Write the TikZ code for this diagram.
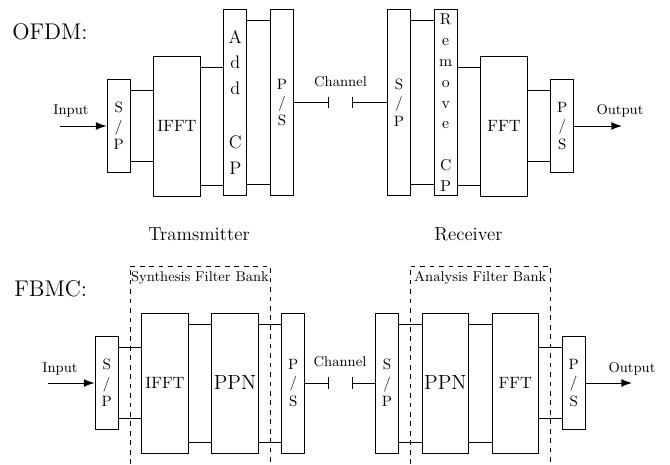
\documentclass[tikz,border=0pt]{standalone}
\usepackage{fontspec}
\usetikzlibrary{arrows.meta}

\tikzset{
  blk/.style={draw, semithick, minimum width=14.8pt, inner sep=0pt, align=center,
    font=\fontsize{9.5}{11.7}\selectfont},
  wblk/.style={blk, minimum width=29.6pt, font=\fontsize{10.4}{12}\selectfont},
  h4/.style={minimum height=59.3pt},
  h6/.style={minimum height=88.9pt},
  h8/.style={minimum height=118.5pt},
  lbl/.style={font=\small, inner sep=0pt, anchor=base},
  title/.style={font=\Large, inner sep=0pt, anchor=base west},
  side/.style={font=\large, inner sep=0pt, anchor=base},
  tick/.style={-{Bar[width=7pt]}},
  io/.style={semithick, -{Latex[length=6.8pt, width=5pt]}},
}

\begin{document}
\begin{tikzpicture}[x=0.635pt, y=0.635pt]
    \useasboundingbox (0,0) rectangle (670,464);

    % OFDM
    \node[title] (ofdm) at (12,424) {OFDM:};
    \node[blk, h4] (sp1) at (118.7,338) {S\\/\\P};
    \node[wblk, h6] (ifft1) at (177,338) {IFFT};
    \node[blk, h8, font=\fontsize{11.5}{15.9}\selectfont] (acp) at (235.3,361.5) {A\\d\\d\\[19pt]C\\P};
    \node[blk, h8] (ps1) at (282,361.5) {P\\/\\S};
    \node[blk, h8] (sp2) at (399,361.5) {S\\/\\P};
    \node[blk, h8, font=\fontsize{10}{13.3}\selectfont] (rcp) at (445.7,361.5) {R\\e\\m\\o\\v\\e\\[13.1pt]C\\P};
    \node[wblk, h6] (fft1) at (504,338) {FFT};
    \node[blk, h4] (ps2) at (562.3,338) {P\\/\\S};

    \node[side] (tx) at (199,224) {Tramsmitter};
    \node[side] (rx) at (468.5,224) {Receiver};

    % FBMC
    \node[title] (fbmc) at (14,167.3) {FBMC:};
    \node[blk, h4] (sp3) at (106.7,81) {S\\/\\P};
    \node[wblk, h6] (ifft2) at (165,81) {IFFT};
    \node[wblk, h6, font=\fontsize{13}{15}\selectfont] (ppn1) at (235,81) {PPN};
    \node[blk, h6] (ps3) at (293.3,81) {P\\/\\S};
    \node[blk, h6] (sp4) at (387,81) {S\\/\\P};
    \node[wblk, h6, font=\fontsize{13}{15}\selectfont] (ppn2) at (445.3,81) {PPN};
    \node[wblk, h6] (fft2) at (515.3,81) {FFT};
    \node[blk, h4] (ps4) at (573.7,81) {P\\/\\S};

    % filter banks
    \draw[semithick, dashed] (130,0) |- (270,198) -- (270,0);
    \draw[semithick, dashed] (410.3,0) |- (550.3,198) -- (550.3,0);
    \node[lbl] (sfb) at (200,182.3) {Synthesis Filter Bank};
    \node[lbl] (afb) at (480.3,182.3) {Analysis Filter Bank};

    % parallel lines between blocks (offset inside the shorter block)
    \foreach \a/\b/\s in {sp1/ifft1/sp1, ifft1/acp/ifft1, acp/ps1/acp,
                         sp2/rcp/sp2, rcp/fft1/fft1, fft1/ps2/ps2,
                         sp3/ifft2/sp3, ifft2/ppn1/ifft2, ppn1/ps3/ppn1,
                         sp4/ppn2/sp4, ppn2/fft2/ppn2, fft2/ps4/ps4} {
      \coordinate (hi) at ([yshift=-7.4pt]\s.north);
      \coordinate (lo) at ([yshift=7.4pt]\s.south);
      \draw (\a.east |- hi) -- (\b.west |- hi);
      \draw (\a.east |- lo) -- (\b.west |- lo);
    }

    % input, output and channel
    \coordinate (in1) at (60,338);
    \coordinate (out1) at (622,338);
    \coordinate (in2) at (48,81);
    \coordinate (out2) at (632,81);
    \coordinate (t1a) at (328.7,361.5);
    \coordinate (t1b) at (352.3,361.5);
    \coordinate (t2a) at (328.3,81);
    \coordinate (t2b) at (351.7,81);

    \draw[io] (in1) -- (sp1);
    \draw[io] (ps2) -- (out1);
    \draw[io] (in2) -- (sp3);
    \draw[io] (ps4) -- (out2);
    \node[lbl] (inl1) at (71,349) {Input};
    \node[lbl] (outl1) at (620,349) {Output};
    \node[lbl] (inl2) at (60,92) {Input};
    \node[lbl] (outl2) at (632,92) {Output};

    \draw[tick] (ps1) -- (t1a);
    \draw[tick] (sp2) -- (t1b);
    \draw[tick] (ps3) -- (t2a);
    \draw[tick] (sp4) -- (t2b);
    \node[lbl] (ch1) at (340.5,378) {Channel};
    \node[lbl] (ch2) at (340,97.3) {Channel};

\end{tikzpicture}
\end{document}
